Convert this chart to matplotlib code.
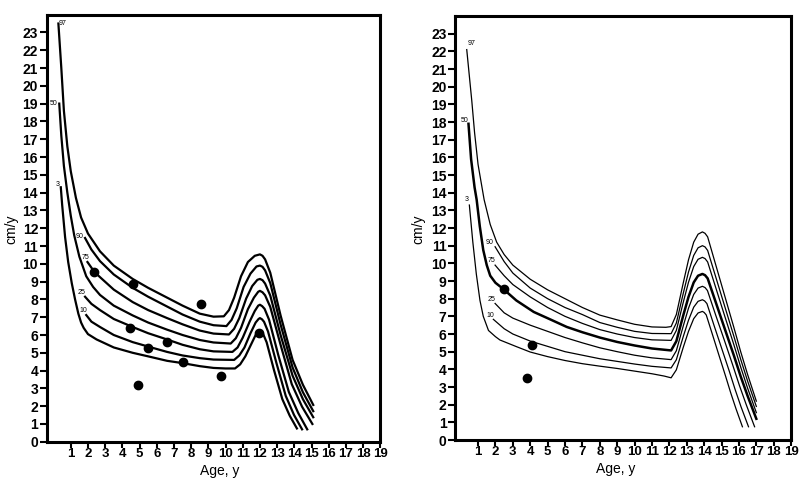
import matplotlib
matplotlib.use("Agg")
from matplotlib import pyplot as plt

plt.rcParams['font.family'] = ['Liberation Sans', 'DejaVu Sans']

# ---- left chart: percentile curves (cm/y vs age) ----
l97_x = [0.28, 0.45, 0.6, 0.8, 1.0, 1.3, 1.6, 2.0, 2.7, 3.5, 4.6, 5.5, 6.6, 7.5, 8.5, 9.3, 9.9,
         10.2, 10.5, 10.9, 11.3, 11.7, 12.0, 12.15, 12.3, 12.6, 13.2, 13.9, 14.5, 15.1]
l97_y = [23.5, 21.0, 18.6, 16.6, 15.2, 13.7, 12.6, 11.7, 10.7, 9.9, 9.15, 8.65, 8.1, 7.65, 7.2, 7.03, 7.05,
         7.4, 8.1, 9.3, 10.1, 10.45, 10.53, 10.45, 10.25, 9.5, 7.1, 4.6, 3.2, 2.07]
l90_x = [1.83, 2.2, 2.7, 3.5, 4.6, 5.5, 6.6, 7.5, 8.5, 9.3, 10.05, 10.35, 10.65, 11.05, 11.45, 11.8, 12.0,
         12.15, 12.3, 12.6, 13.2, 13.9, 14.5, 15.1]
l90_y = [11.45, 10.8, 10.15, 9.4, 8.65, 8.15, 7.6, 7.15, 6.75, 6.55, 6.5, 6.85, 7.5, 8.7, 9.45, 9.85, 9.9,
         9.83, 9.63, 8.92, 6.59, 4.17, 2.78, 1.72]
l75_x = [1.97, 2.37, 2.7, 3.5, 4.6, 5.5, 6.6, 7.5, 8.5, 9.3, 10.2, 10.5, 10.8, 11.2, 11.55, 11.85, 12.0,
         12.15, 12.3, 12.6, 13.2, 13.9, 14.5, 15.1]
l75_y = [10.1, 9.55, 9.25, 8.55, 7.85, 7.4, 6.95, 6.6, 6.25, 6.08, 6.03, 6.35, 6.95, 8.05, 8.75, 9.1, 9.15,
         9.08, 8.89, 8.22, 6.0, 3.71, 2.39, 1.38]
l50_x = [0.33, 0.45, 0.6, 0.8, 1.0, 1.2, 1.5, 1.9, 2.3, 2.7, 3.5, 4.6, 5.5, 6.6, 7.5, 8.5, 9.3, 10.3,
         10.6, 10.9, 11.3, 11.65, 11.9, 12.0, 12.15, 12.3, 12.6, 13.2, 13.85, 14.45, 15.05]
l50_y = [19.0, 17.2, 15.5, 14.0, 12.7, 11.6, 10.4, 9.3, 8.7, 8.25, 7.65, 7.1, 6.7, 6.3, 6.0, 5.72, 5.58, 5.52,
         5.82, 6.4, 7.45, 8.1, 8.43, 8.48, 8.4, 8.23, 7.58, 5.45, 3.24, 1.97, 1.0]
l25_x = [1.83, 2.2, 2.7, 3.5, 4.6, 5.5, 6.6, 7.5, 8.5, 9.3, 10.4, 10.7, 11.0, 11.4, 11.7, 11.9, 12.0,
         12.13, 12.27, 12.53, 13.07, 13.68, 14.23, 14.75]
l25_y = [8.15, 7.75, 7.4, 6.9, 6.45, 6.1, 5.75, 5.45, 5.2, 5.08, 5.05, 5.3, 5.85, 6.75, 7.35, 7.65, 7.7,
         7.62, 7.47, 6.86, 4.86, 2.8, 1.61, 0.7]
l10_x = [1.9, 2.2, 2.7, 3.5, 4.6, 5.5, 6.6, 7.5, 8.5, 9.3, 10.5, 10.8, 11.1, 11.45, 11.75, 11.92, 12.0,
         12.12, 12.24, 12.47, 12.96, 13.5, 13.98, 14.45]
l10_y = [7.12, 6.75, 6.45, 6.0, 5.6, 5.35, 5.05, 4.85, 4.7, 4.62, 4.6, 4.85, 5.3, 6.1, 6.7, 6.9, 6.95,
         6.88, 6.74, 6.2, 4.42, 2.58, 1.51, 0.7]
l3_x = [0.42, 0.5, 0.67, 0.85, 1.06, 1.25, 1.44, 1.6, 1.75, 2.0, 2.5, 3.5, 4.6, 5.5, 6.6, 7.5, 8.5, 9.3,
        10.0, 10.55, 10.85, 11.15, 11.5, 11.75, 11.9, 11.97, 12.08, 12.18, 12.39, 12.82, 13.3, 13.73, 14.15]
l3_y = [14.3, 13.3, 11.5, 10.1, 8.9, 8.0, 7.2, 6.7, 6.4, 6.05, 5.75, 5.3, 5.0, 4.8, 4.55, 4.42, 4.25, 4.15,
        4.12, 4.12, 4.35, 4.8, 5.5, 6.0, 6.2, 6.25, 6.19, 6.07, 5.59, 4.02, 2.4, 1.47, 0.75]
left_dots_x = [2.37, 4.64, 4.45, 4.93, 5.51, 6.58, 7.51, 8.56, 9.72, 11.97]
left_dots_y = [9.55, 8.86, 6.41, 3.19, 5.29, 5.62, 4.5, 7.72, 3.72, 6.13]

# ---- right chart ----
r97_x = [0.35, 0.5, 0.64, 0.8, 1.0, 1.35, 1.7, 2.07, 2.5, 3.0, 4.0, 5.0, 6.0, 7.0, 8.0, 9.0, 10.0, 11.0,
         11.8, 12.1, 12.4, 12.8, 13.1, 13.4, 13.65, 13.9, 14.05, 14.2, 14.7, 15.2, 15.7, 16.1, 16.5, 17.0]
r97_y = [22.1, 20.6, 19.2, 17.4, 15.6, 13.6, 12.2, 11.2, 10.5, 9.9, 9.1, 8.5, 8.0, 7.5, 7.07, 6.8, 6.55, 6.4,
         6.38, 6.42, 7.1, 8.9, 10.2, 11.2, 11.65, 11.78, 11.7, 11.5, 9.8, 8.1, 6.4, 5.0, 3.7, 2.2]
r90_x = [1.98, 2.5, 3.0, 4.0, 5.0, 6.0, 7.0, 8.0, 9.0, 10.0, 11.0, 12.1, 12.4, 12.8, 13.1, 13.4, 13.65,
         13.9, 14.05, 14.2, 14.7, 15.2, 15.7, 16.1, 16.5, 17.0]
r90_y = [10.94, 10.1, 9.45, 8.6, 8.0, 7.5, 7.1, 6.65, 6.38, 6.15, 6.03, 6.02, 6.62, 8.31, 9.51, 10.45, 10.88,
         11.0, 10.93, 10.73, 9.12, 7.51, 5.9, 4.57, 3.33, 1.9]
r75_x = [1.98, 2.5, 3.0, 4.0, 5.0, 6.0, 7.0, 8.0, 9.0, 10.0, 11.0, 12.1, 12.4, 12.8, 13.1, 13.4, 13.65,
         13.9, 14.05, 14.2, 14.7, 15.2, 15.7, 16.1, 16.5, 17.0]
r75_y = [9.9, 9.3, 8.8, 8.1, 7.5, 7.0, 6.6, 6.25, 6.0, 5.8, 5.67, 5.64, 6.2, 7.8, 8.93, 9.82, 10.23,
         10.34, 10.27, 10.08, 8.52, 6.96, 5.42, 4.13, 2.93, 1.55]
r50_x = [0.45, 0.6, 0.8, 0.92, 1.1, 1.3, 1.5, 1.7, 2.0, 2.45, 3.2, 4.2, 5.1, 6.1, 7.0, 8.0, 9.0, 10.0, 11.0,
         12.1, 12.4, 12.8, 13.1, 13.4, 13.65, 13.9, 14.05, 14.2, 14.7, 15.2, 15.7, 16.1, 16.5, 17.0]
r50_y = [17.9, 15.9, 14.3, 13.6, 12.1, 10.75, 9.9, 9.3, 8.9, 8.55, 7.9, 7.25, 6.85, 6.4, 6.1, 5.8, 5.55, 5.35,
         5.18, 5.07, 5.59, 7.06, 8.1, 8.92, 9.3, 9.4, 9.33, 9.15, 7.7, 6.25, 4.81, 3.6, 2.49, 1.2]
r25_x = [1.98, 2.5, 3.0, 4.0, 5.0, 6.0, 7.0, 8.0, 9.0, 10.0, 11.0, 12.1, 12.4, 12.8, 13.1, 13.4, 13.65,
         13.9, 14.05, 14.19, 14.67, 15.16, 15.64, 16.03, 16.42, 16.9]
r25_y = [7.73, 7.2, 6.9, 6.5, 6.15, 5.8, 5.5, 5.22, 5.0, 4.8, 4.65, 4.55, 5.05, 6.46, 7.46, 8.24, 8.6,
         8.7, 8.63, 8.46, 7.05, 5.65, 4.25, 3.08, 2.0, 0.75]
r10_x = [1.88, 2.5, 3.0, 4.0, 5.0, 6.0, 7.0, 8.0, 9.0, 10.0, 11.0, 12.1, 12.4, 12.8, 13.1, 13.4, 13.65,
         13.9, 14.03, 14.16, 14.58, 15.01, 15.44, 15.78, 16.12, 16.55]
r10_y = [6.83, 6.3, 6.0, 5.6, 5.3, 5.0, 4.8, 4.6, 4.45, 4.3, 4.17, 4.08, 4.54, 5.86, 6.78, 7.52, 7.85,
         7.94, 7.87, 7.72, 6.45, 5.18, 3.91, 2.86, 1.88, 0.75]
r3_x = [0.5, 0.7, 0.9, 1.11, 1.3, 1.6, 2.0, 2.26, 3.22, 4.0, 5.0, 6.0, 7.0, 8.0, 9.0, 10.0, 11.0, 11.7,
        12.1, 12.4, 12.8, 13.1, 13.4, 13.65, 13.9, 14.0, 14.12, 14.49, 14.86, 15.23, 15.53, 15.83, 16.2]
r3_y = [13.3, 11.2, 9.4, 7.9, 7.0, 6.2, 5.85, 5.66, 5.28, 4.98, 4.72, 4.5, 4.32, 4.18, 4.05, 3.9, 3.75, 3.62,
        3.52, 3.97, 5.25, 6.15, 6.87, 7.19, 7.28, 7.22, 7.08, 5.93, 4.77, 3.62, 2.66, 1.77, 0.75]
right_dots_x = [2.48, 4.11, 3.8]
right_dots_y = [8.55, 5.4, 3.51]

pct_names = ["97", "90", "75", "50", "25", "10", "3"]
left_label_pos = [(0.55, 23.5), (1.54, 11.56), (1.83, 10.36), (0.03, 19.0), (1.64, 8.38), (1.73, 7.4), (0.22, 14.45)]
right_label_pos = [(0.64, 22.45), (1.69, 11.17), (1.79, 10.15), (0.25, 18.1), (1.79, 7.96), (1.73, 7.07), (0.35, 13.6)]

fig = plt.figure(figsize=(8, 4.84), dpi=100)
ax1 = fig.add_axes([0.0588, 0.0872, 0.4166, 0.8826])
ax2 = fig.add_axes([0.5693, 0.0909, 0.4196, 0.876])

left_curves = [(l97_x, l97_y), (l90_x, l90_y), (l75_x, l75_y), (l50_x, l50_y),
               (l25_x, l25_y), (l10_x, l10_y), (l3_x, l3_y)]
right_curves = [(r97_x, r97_y), (r90_x, r90_y), (r75_x, r75_y), (r50_x, r50_y),
                (r25_x, r25_y), (r10_x, r10_y), (r3_x, r3_y)]

for cx, cy in left_curves:
    ax1.plot(cx, cy, color="black", lw=1.6, solid_joinstyle="round")
ax1.plot(left_dots_x, left_dots_y, "o", color="black", ms=6)

for name, (cx, cy) in zip(pct_names, right_curves):
    ax2.plot(cx, cy, color="black", lw=1.8 if name == "50" else 0.9, solid_joinstyle="round")
ax2.plot(right_dots_x, right_dots_y, "o", color="black", ms=6)

for ax, names_pos, xl, ylab_x in [(ax1, left_label_pos, (-0.38, 19), 0.014),
                                  (ax2, right_label_pos, (-0.3, 19), 0.5225)]:
    for name, (tx, ty) in zip(pct_names, names_pos):
        ax.text(tx, ty, name, fontsize=5, ha="center", va="center")
    ax.set_xlim(*xl)
    ax.set_ylim(0, 24)
    ax.set_xticks(range(1, 20))
    ax.set_yticks(range(0, 24))
    ax.tick_params(direction="out", length=5, width=1.5, labelsize=10, pad=1.5)
    ax.tick_params(axis="x", length=4, pad=0.5, labelsize=9.5)
    for lab in ax.get_xticklabels() + ax.get_yticklabels():
        lab.set_fontweight("bold")
    for sp in ax.spines.values():
        sp.set_linewidth(2.2)
    fig.text(ylab_x, 0.527, "cm/y", rotation=90, fontsize=10, ha="center", va="center")

fig.text(0.275, 0.026, "Age, y", fontsize=10, ha="center", va="center")
fig.text(0.77, 0.03, "Age, y", fontsize=10, ha="center", va="center")

plt.savefig("out.png", dpi=100)
